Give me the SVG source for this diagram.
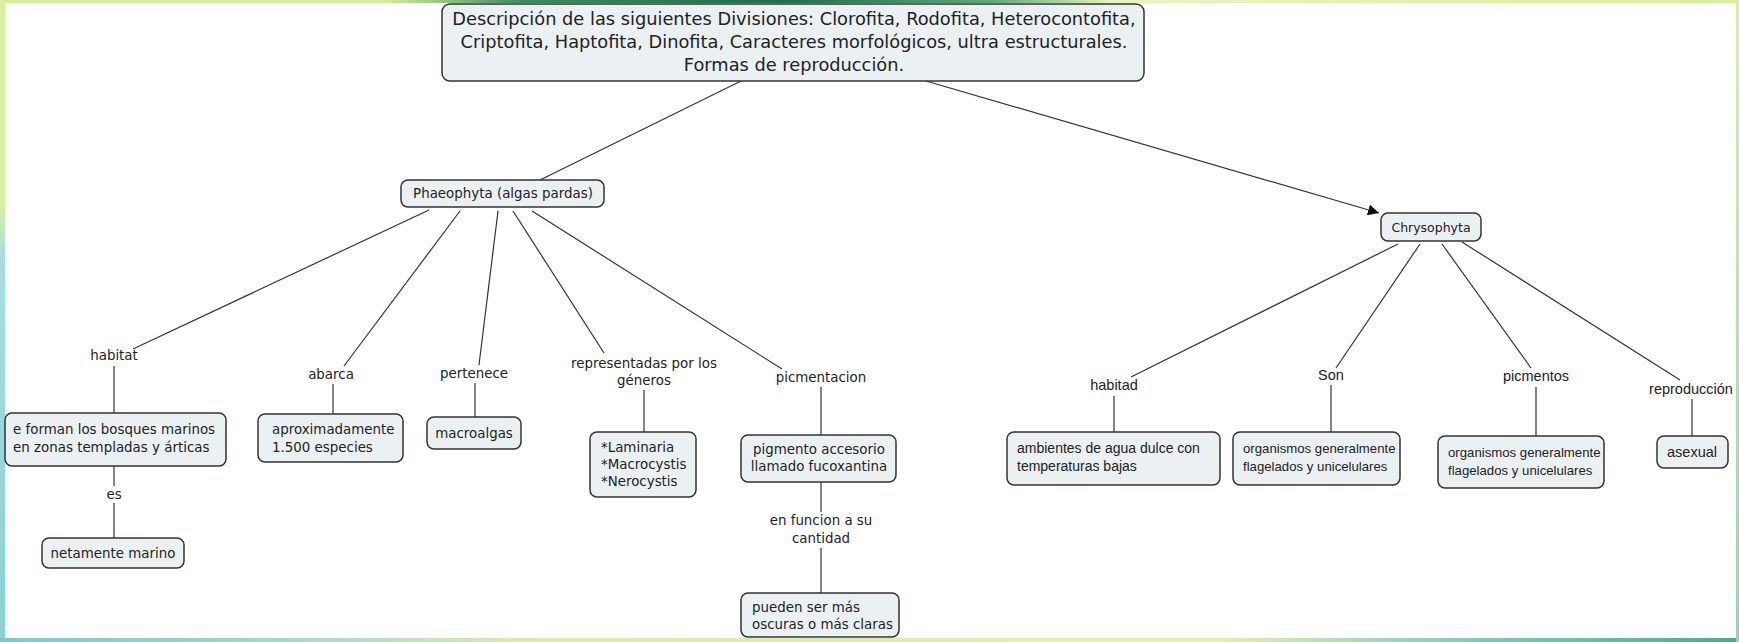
<svg xmlns="http://www.w3.org/2000/svg" width="1739" height="642" viewBox="0 0 1739 642">
<defs>
<linearGradient id="gTop" x1="0" y1="0" x2="1" y2="0">
<stop offset="0" stop-color="#d6ef9e"/><stop offset="0.22" stop-color="#d6ef9e"/><stop offset="0.3" stop-color="#3f8a60"/><stop offset="0.45" stop-color="#1f6e4a"/><stop offset="0.57" stop-color="#5fa878"/><stop offset="0.64" stop-color="#e8f5c0"/><stop offset="1" stop-color="#d6ef9e"/>
</linearGradient>
<linearGradient id="gLeft" x1="0" y1="0" x2="0" y2="1">
<stop offset="0" stop-color="#d9f0a0"/><stop offset="0.32" stop-color="#d9f0a0"/><stop offset="0.4" stop-color="#a6dede"/><stop offset="1" stop-color="#8cd0d0"/>
</linearGradient>
<linearGradient id="gBot" x1="0" y1="0" x2="1" y2="0">
<stop offset="0" stop-color="#7fc8c8"/><stop offset="0.15" stop-color="#9fd6d0"/><stop offset="0.3" stop-color="#d8ecb0"/><stop offset="0.7" stop-color="#e4f0b0"/><stop offset="0.85" stop-color="#7fc8c0"/><stop offset="1" stop-color="#4fa890"/>
</linearGradient>
<linearGradient id="gRight" x1="0" y1="0" x2="0" y2="1">
<stop offset="0" stop-color="#d9f0a0"/><stop offset="1" stop-color="#8fd8b0"/>
</linearGradient>
<marker id="arr" viewBox="0 0 10 10" refX="10" refY="5" markerWidth="11" markerHeight="11" markerUnits="userSpaceOnUse" orient="auto">
<path d="M0,0 L10,5 L0,10 z" fill="#111"/>
</marker>
</defs>
<style>
.box{fill:#ebf1f3;stroke:#333;stroke-width:1.5}
.t{font-family:"DejaVu Sans","Liberation Sans",sans-serif;font-size:13.4px;fill:#222}
.r{font-family:"Liberation Sans",Arial,sans-serif;font-size:14.5px}
.c{text-anchor:middle}
.big{font-size:17.8px}
.ln{stroke:#333;stroke-width:1.2;fill:none}
</style>
<rect x="0" y="0" width="1739" height="642" fill="#ffffff"/>
<rect x="0" y="0" width="1739" height="3" fill="url(#gTop)"/>
<rect x="0" y="0" width="5" height="642" fill="url(#gLeft)"/>
<rect x="0" y="638" width="1739" height="4" fill="url(#gBot)"/>
<rect x="1736" y="0" width="3" height="642" fill="url(#gRight)"/>

<g id="connectors">
<line class="ln" x1="741" y1="81" x2="540" y2="180"/>
<line class="ln" x1="926" y1="81" x2="1379" y2="213" marker-end="url(#arr)"/>
<line class="ln" x1="429" y1="210" x2="133" y2="349"/>
<line class="ln" x1="460" y1="211" x2="344" y2="366"/>
<line class="ln" x1="498" y1="211" x2="479" y2="365"/>
<line class="ln" x1="513" y1="211" x2="604" y2="353"/>
<line class="ln" x1="532" y1="211" x2="782" y2="369"/>
<line class="ln" x1="114" y1="366" x2="114" y2="413"/>
<line class="ln" x1="114" y1="466" x2="114" y2="486"/>
<line class="ln" x1="114" y1="503" x2="114" y2="538"/>
<line class="ln" x1="333" y1="384" x2="333" y2="414"/>
<line class="ln" x1="475" y1="383" x2="475" y2="417"/>
<line class="ln" x1="644" y1="390" x2="644" y2="432"/>
<line class="ln" x1="821" y1="387" x2="821" y2="435"/>
<line class="ln" x1="821" y1="482" x2="821" y2="512"/>
<line class="ln" x1="821" y1="548" x2="821" y2="593"/>
<line class="ln" x1="1398" y1="244" x2="1131" y2="377"/>
<line class="ln" x1="1420" y1="244" x2="1336" y2="368"/>
<line class="ln" x1="1442" y1="244" x2="1531" y2="368"/>
<line class="ln" x1="1462" y1="242" x2="1680" y2="380"/>
<line class="ln" x1="1114" y1="396" x2="1114" y2="432"/>
<line class="ln" x1="1331" y1="385" x2="1331" y2="432"/>
<line class="ln" x1="1536" y1="387" x2="1536" y2="436"/>
<line class="ln" x1="1692" y1="399" x2="1692" y2="436"/>
</g>

<g id="n-top"><rect class="box" x="442" y="4" width="702" height="77" rx="8"/>
<text class="t c big" x="794" y="25">Descripción de las siguientes Divisiones: Clorofita, Rodofita, Heterocontofita,</text>
<text class="t c big" x="794" y="48">Criptofita, Haptofita, Dinofita, Caracteres morfológicos, ultra estructurales.</text>
<text class="t c big" x="794" y="71">Formas de reproducción.</text></g>

<g id="n-phaeo"><rect class="box" x="401" y="180" width="203" height="27" rx="7"/>
<text class="t c" x="503" y="198">Phaeophyta (algas pardas)</text></g>
<g id="n-chryso"><rect class="box" x="1381" y="213" width="100" height="28" rx="7"/>
<text class="t c" x="1431" y="232" style="font-size:12.5px">Chrysophyta</text></g>

<g id="l-habitat"><text class="t c" x="114" y="360">habitat</text></g>
<g id="l-abarca"><text class="t c" x="331" y="379">abarca</text></g>
<g id="l-pertenece"><text class="t c" x="474" y="378">pertenece</text></g>
<g id="l-repr"><text class="t c" x="644" y="368">representadas por los</text><text class="t c" x="644" y="385">géneros</text></g>
<g id="l-picm"><text class="t c" x="821" y="382">picmentacion</text></g>

<g id="n-bosques"><rect class="box" x="5" y="413" width="221" height="53" rx="7"/>
<text class="t" x="13" y="434">e forman los bosques marinos</text><text class="t" x="13" y="452">en zonas templadas y árticas</text></g>
<g id="l-es"><text class="t c" x="114" y="499">es</text></g>
<g id="n-netamente"><rect class="box" x="42" y="538" width="142" height="30" rx="7"/>
<text class="t c" x="113" y="558">netamente marino</text></g>
<g id="n-aprox"><rect class="box" x="258" y="414" width="145" height="48" rx="7"/>
<text class="t" x="272" y="434">aproximadamente</text><text class="t" x="272" y="452">1.500 especies</text></g>
<g id="n-macro"><rect class="box" x="427" y="417" width="94" height="32" rx="7"/>
<text class="t c" x="474" y="438">macroalgas</text></g>
<g id="n-lamin"><rect class="box" x="590" y="432" width="106" height="65" rx="7"/>
<text class="t" x="601" y="452">*Laminaria</text><text class="t" x="601" y="469">*Macrocystis</text><text class="t" x="601" y="486">*Nerocystis</text></g>
<g id="n-pigm"><rect class="box" x="741" y="435" width="155" height="47" rx="7"/>
<text class="t c" x="819" y="454">pigmento accesorio</text><text class="t c" x="819" y="471">llamado fucoxantina</text></g>
<g id="l-func"><text class="t c" x="821" y="525">en funcion a su</text><text class="t c" x="821" y="543">cantidad</text></g>
<g id="n-pueden"><rect class="box" x="741" y="593" width="158" height="44" rx="7"/>
<text class="t" x="752" y="612">pueden ser más</text><text class="t" x="752" y="629">oscuras o más claras</text></g>

<g id="l-habitad"><text class="t r c" x="1114" y="390">habitad</text></g>
<g id="l-son"><text class="t r c" x="1331" y="380">Son</text></g>
<g id="l-picmentos"><text class="t r c" x="1536" y="381">picmentos</text></g>
<g id="l-reprod"><text class="t r c" x="1691" y="394">reproducción</text></g>
<g id="n-ambientes"><rect class="box" x="1007" y="432" width="213" height="53" rx="7"/>
<text class="t r" x="1017" y="453" style="font-size:14px">ambientes de agua dulce con</text><text class="t r" x="1017" y="471" style="font-size:14px">temperaturas bajas</text></g>
<g id="n-org1"><rect class="box" x="1233" y="432" width="167" height="53" rx="7"/>
<text class="t r" x="1243" y="453" style="font-size:13.2px">organismos generalmente</text><text class="t r" x="1243" y="471" style="font-size:13.2px">flagelados y unicelulares</text></g>
<g id="n-org2"><rect class="box" x="1438" y="436" width="166" height="52" rx="7"/>
<text class="t r" x="1448" y="457" style="font-size:13.2px">organismos generalmente</text><text class="t r" x="1448" y="475" style="font-size:13.2px">flagelados y unicelulares</text></g>
<g id="n-asexual"><rect class="box" x="1657" y="436" width="71" height="32" rx="7"/>
<text class="t r c" x="1692" y="457">asexual</text></g>
</svg>
